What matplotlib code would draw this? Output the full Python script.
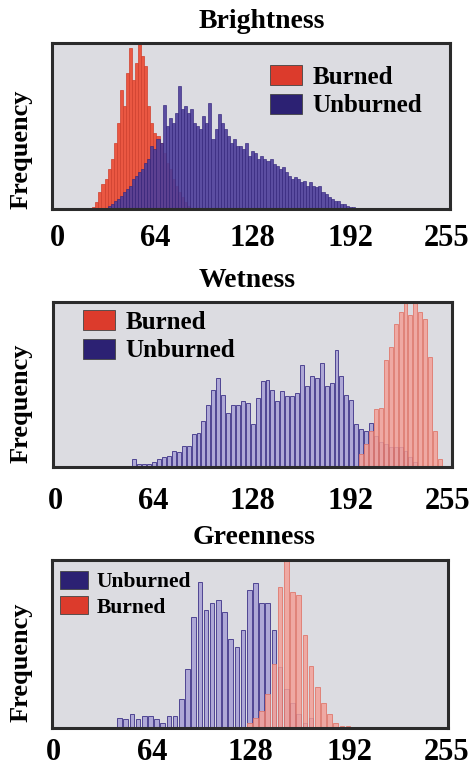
import matplotlib.pyplot as plt
import numpy as np
from matplotlib.patches import Patch

# --- data (heights in % of panel height) ---
x_ticks = [0, 64, 128, 192, 255]

# Brightness: one bar every 2 DN
bright_step = 2.0
bright_burned_start = 24
bright_burned = [1, 4, 10, 15, 18, 24, 30, 40, 52, 72, 62, 82, 97, 78, 88, 100,
                 92, 86, 62, 52, 46, 44, 40, 34, 28, 24, 18, 14, 10, 7, 4, 2]
bright_unburned_start = 34
bright_unburned = [2, 3, 5, 6, 8, 10, 12, 14, 18, 20,
                   22, 24, 28, 30, 38, 36, 42, 40, 63, 50,
                   55, 52, 58, 74, 60, 62, 58, 60, 52, 50,
                   48, 56, 52, 64, 42, 48, 57, 52, 48, 44,
                   40, 42, 38, 38, 36, 40, 32, 35, 34, 30,
                   32, 30, 29, 30, 27, 26, 24, 25, 22, 20,
                   18, 19, 18, 16, 17, 14, 16, 14, 13, 14,
                   10, 9, 7, 6, 5, 5, 3, 3, 2, 1, 1]

# Wetness: one bar every 3.2 DN
wet_step = 3.2
wet_unburned_start = 42
wet_unburned = [1, 0.5, 1, 5, 2, 2, 2, 3, 5, 6,
                7, 10, 9, 13, 13, 20, 21, 28, 38, 47,
                54, 44, 33, 38, 38, 40, 39, 26, 42, 52,
                53, 47, 40, 46, 43, 43, 45, 62, 49, 55,
                54, 63, 49, 51, 71, 55, 44, 41, 26, 23,
                22, 27, 19, 15, 14, 12, 12, 12, 10, 6, 3, 1]
wet_burned_start = 198.8
wet_burned = [8, 14, 22, 35, 36, 65, 73, 87, 94, 100, 92, 100, 94, 90, 67, 22, 5]

# Greenness: one bar every 4 DN
green_step = 4.0
green_unburned_start = 43
green_unburned = [6, 5, 8, 5, 7, 7, 5, 3, 7, 7,
                  17, 35, 66, 87, 70, 74, 76, 69, 53, 48,
                  58, 82, 86, 74, 74, 58, 36, 23, 15, 8, 3, 6]
green_burned_start = 127
green_burned = [3, 6, 10, 20, 38, 84, 100, 81, 79, 55, 37, 24, 15, 8, 3, 1, 1]

# --- styling ---
FONT = 'Liberation Serif'
BG = '#dcdce1'
LEG_RED = '#dc3b2c'
LEG_BLUE = '#2c2173'

plt.rcParams['font.family'] = FONT
plt.rcParams['font.weight'] = 'bold'


def centres(start, step, values):
    return start + step * np.arange(len(values))


def setupPanel(ax, title, title_x, tick_pad, label_y, xlim):
    ax.set_facecolor(BG)
    ax.set_xlim(*xlim)
    ax.set_ylim(0, 100)
    ax.set_yticks([])
    ax.set_xticks(x_ticks)
    ax.set_xticklabels([str(t) for t in x_ticks])
    ax.tick_params(axis='x', length=0, pad=tick_pad, labelsize=22)
    for s in ax.spines.values():
        s.set_linewidth(2.2)
        s.set_color('#2b2b2b')
    ax.set_title(title, fontsize=20, fontweight='bold', x=title_x, pad=11)
    ax.set_ylabel('Frequency', fontsize=19, fontweight='bold')
    ax.yaxis.set_label_coords(-0.05, label_y)


def addLegend(ax, labels, colors, anchor, size, hlen, hheight, spacing):
    handles = [Patch(facecolor=c, edgecolor='#444444', linewidth=0.6) for c in colors]
    ax.legend(handles, labels, loc='upper left', bbox_to_anchor=anchor, frameon=False,
              borderpad=0, borderaxespad=0, handlelength=hlen, handleheight=hheight,
              handletextpad=0.4, labelspacing=spacing,
              prop={'family': FONT, 'weight': 'bold', 'size': size})


fig = plt.figure(figsize=(4.77, 7.71), dpi=100)
fig.patch.set_facecolor('white')

# Brightness
ax1 = fig.add_axes([0.109, 0.729, 0.834, 0.215])
ax1.bar(centres(bright_burned_start, bright_step, bright_burned), bright_burned,
        width=bright_step, color='#ea5742', edgecolor='#cf3f2d', linewidth=0.5)
ax1.bar(centres(bright_unburned_start, bright_step, bright_unburned), bright_unburned,
        width=bright_step, color='#4d3e9a', edgecolor='#34267c', linewidth=0.5, alpha=0.9)
setupPanel(ax1, 'Brightness', 0.528, 11, 0.36, (-3.4, 257))
addLegend(ax1, ['Burned', 'Unburned'], [LEG_RED, LEG_BLUE], (0.548, 0.87), 18, 1.3, 0.88, 0.2)

# Wetness
ax2 = fig.add_axes([0.111, 0.394, 0.836, 0.214])
ax2.bar(centres(wet_unburned_start, wet_step, wet_unburned), wet_unburned,
        width=wet_step * 0.8, color='#aea8d6', edgecolor='#4f4592', linewidth=0.7)
ax2.bar(centres(wet_burned_start, wet_step, wet_burned), wet_burned,
        width=wet_step * 0.8, color='#f3a098', edgecolor='#e0776c', linewidth=0.7, alpha=0.85)
setupPanel(ax2, 'Wetness', 0.486, 14, 0.39, (-1.3, 257.6))
addLegend(ax2, ['Burned', 'Unburned'], [LEG_RED, LEG_BLUE], (0.075, 0.955), 18, 1.3, 0.88, 0.2)

# Greenness
ax3 = fig.add_axes([0.109, 0.056, 0.830, 0.218])
ax3.bar(centres(green_unburned_start, green_step, green_unburned), green_unburned,
        width=green_step * 0.75, color='#aea8d6', edgecolor='#4f4592', linewidth=0.7)
ax3.bar(centres(green_burned_start, green_step, green_burned), green_burned,
        width=green_step * 0.75, color='#f3a098', edgecolor='#e0776c', linewidth=0.7, alpha=0.85)
setupPanel(ax3, 'Greenness', 0.51, 7, 0.39, (-0.7, 255.6))
addLegend(ax3, ['Unburned', 'Burned'], [LEG_BLUE, LEG_RED], (0.02, 0.935), 15.5, 1.3, 0.9, 0.2)

fig.savefig('out.png', dpi=100)
